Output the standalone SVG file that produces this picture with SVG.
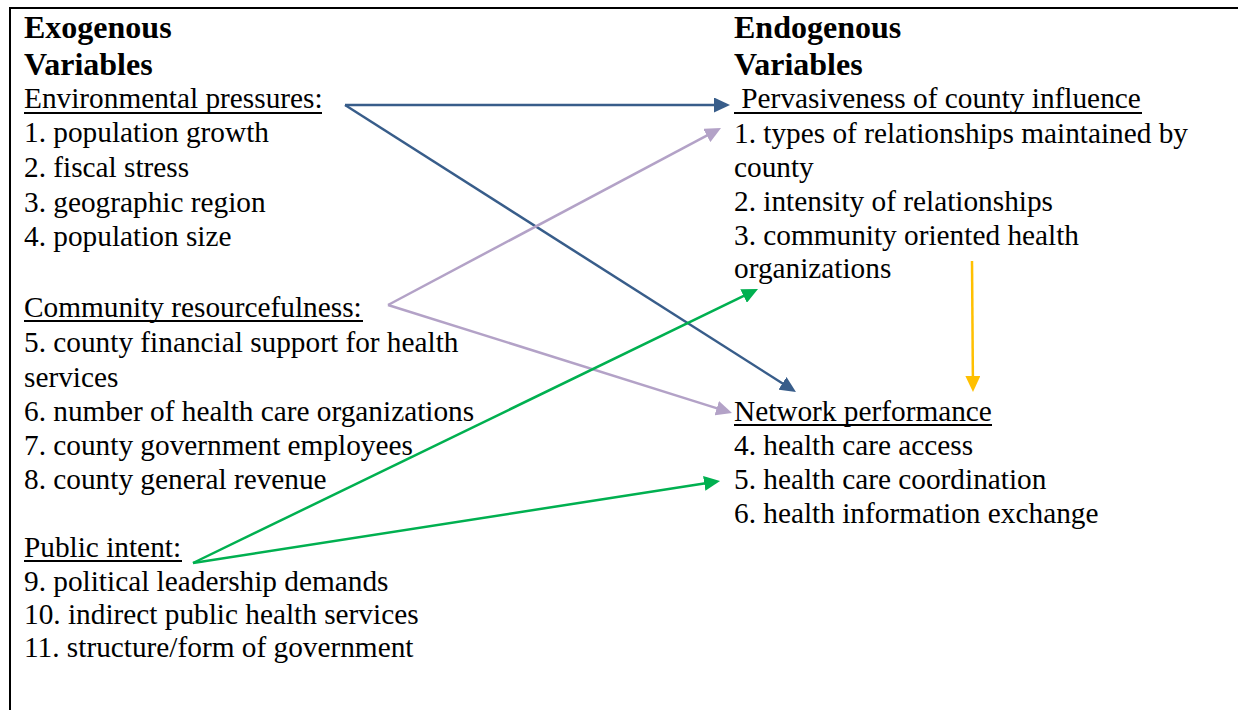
<svg xmlns="http://www.w3.org/2000/svg" width="1238" height="710" viewBox="0 0 1238 710">
<style>
text{font-family:"Liberation Serif","Times New Roman",serif;fill:#000;}
.h{font-size:32px;font-weight:bold;}
.t{font-size:29.3px;}
.ul{stroke:#000;stroke-width:2;}
.c{fill:none;stroke-width:2.5;}
</style>
<defs>
<marker id="aBlue" markerUnits="userSpaceOnUse" markerWidth="16" markerHeight="15" refX="3" refY="7.5" orient="auto"><path d="M0,0 L16,7.5 L0,15 z" fill="#385D8A"/></marker>
<marker id="aPurple" markerUnits="userSpaceOnUse" markerWidth="16" markerHeight="15" refX="3" refY="7.5" orient="auto"><path d="M0,0 L16,7.5 L0,15 z" fill="#B3A2C7"/></marker>
<marker id="aGreen" markerUnits="userSpaceOnUse" markerWidth="16" markerHeight="15" refX="3" refY="7.5" orient="auto"><path d="M0,0 L16,7.5 L0,15 z" fill="#00B050"/></marker>
<marker id="aOrange" markerUnits="userSpaceOnUse" markerWidth="16" markerHeight="15" refX="3" refY="7.5" orient="auto"><path d="M0,0 L16,7.5 L0,15 z" fill="#FFC000"/></marker>
</defs>
<rect width="1238" height="710" fill="#fff"/>
<path d="M10,710 V8 H1238" fill="none" stroke="#000" stroke-width="2"/>

<g id="exogenous-heading">
<text class="h" x="24" y="38">Exogenous</text>
<text class="h" x="24" y="75">Variables</text>
</g>
<g id="environmental-pressures">
<text class="t" x="24" y="108">Environmental pressures:</text>
<line class="ul" x1="24" y1="113" x2="322" y2="113"/>
<text class="t" x="24" y="142">1. population growth</text>
<text class="t" x="24" y="177">2. fiscal stress</text>
<text class="t" x="24" y="212">3. geographic region</text>
<text class="t" x="24" y="246">4. population size</text>
</g>
<g id="community-resourcefulness">
<text class="t" x="24" y="317">Community resourcefulness:</text>
<line class="ul" x1="24" y1="321" x2="363" y2="321"/>
<text class="t" x="24" y="352">5. county financial support for health</text>
<text class="t" x="24" y="387">services</text>
<text class="t" x="24" y="421">6. number of health care organizations</text>
<text class="t" x="24" y="455">7. county government employees</text>
<text class="t" x="24" y="489">8. county general revenue</text>
</g>
<g id="public-intent">
<text class="t" x="24" y="557">Public intent:</text>
<line class="ul" x1="24" y1="561" x2="182" y2="561"/>
<text class="t" x="24" y="591">9. political leadership demands</text>
<text class="t" x="24" y="624">10. indirect public health services</text>
<text class="t" x="24" y="657">11. structure/form of government</text>
</g>
<g id="endogenous-heading">
<text class="h" x="734" y="38">Endogenous</text>
<text class="h" x="734" y="75">Variables</text>
</g>
<g id="pervasiveness">
<text class="t" x="734" y="108" xml:space="preserve"> Pervasiveness of county influence</text>
<line class="ul" x1="734" y1="113" x2="1142" y2="113"/>
<text class="t" x="734" y="143">1. types of relationships maintained by</text>
<text class="t" x="734" y="177">county</text>
<text class="t" x="734" y="211">2. intensity of relationships</text>
<text class="t" x="734" y="245">3. community oriented health</text>
<text class="t" x="734" y="278">organizations</text>
</g>
<g id="network-performance">
<text class="t" x="734" y="421">Network performance</text>
<line class="ul" x1="734" y1="425" x2="992" y2="425"/>
<text class="t" x="734" y="455">4. health care access</text>
<text class="t" x="734" y="489">5. health care coordination</text>
<text class="t" x="734" y="523">6. health information exchange</text>
</g>

<g id="connectors">
<line class="c" x1="345" y1="105" x2="717" y2="105" stroke="#385D8A" marker-end="url(#aBlue)"/>
<line class="c" x1="345" y1="105" x2="785" y2="385" stroke="#385D8A" marker-end="url(#aBlue)"/>
<line class="c" x1="388" y1="305" x2="709.5" y2="134.1" stroke="#B3A2C7" marker-end="url(#aPurple)"/>
<line class="c" x1="388" y1="305" x2="719.6" y2="409.1" stroke="#B3A2C7" marker-end="url(#aPurple)"/>
<line class="c" x1="193" y1="563" x2="746.3" y2="294.7" stroke="#00B050" marker-end="url(#aGreen)"/>
<line class="c" x1="193" y1="563" x2="707.2" y2="483" stroke="#00B050" marker-end="url(#aGreen)"/>
<line class="c" x1="972" y1="261" x2="972.9" y2="379" stroke="#FFC000" marker-end="url(#aOrange)"/>
</g>
</svg>
